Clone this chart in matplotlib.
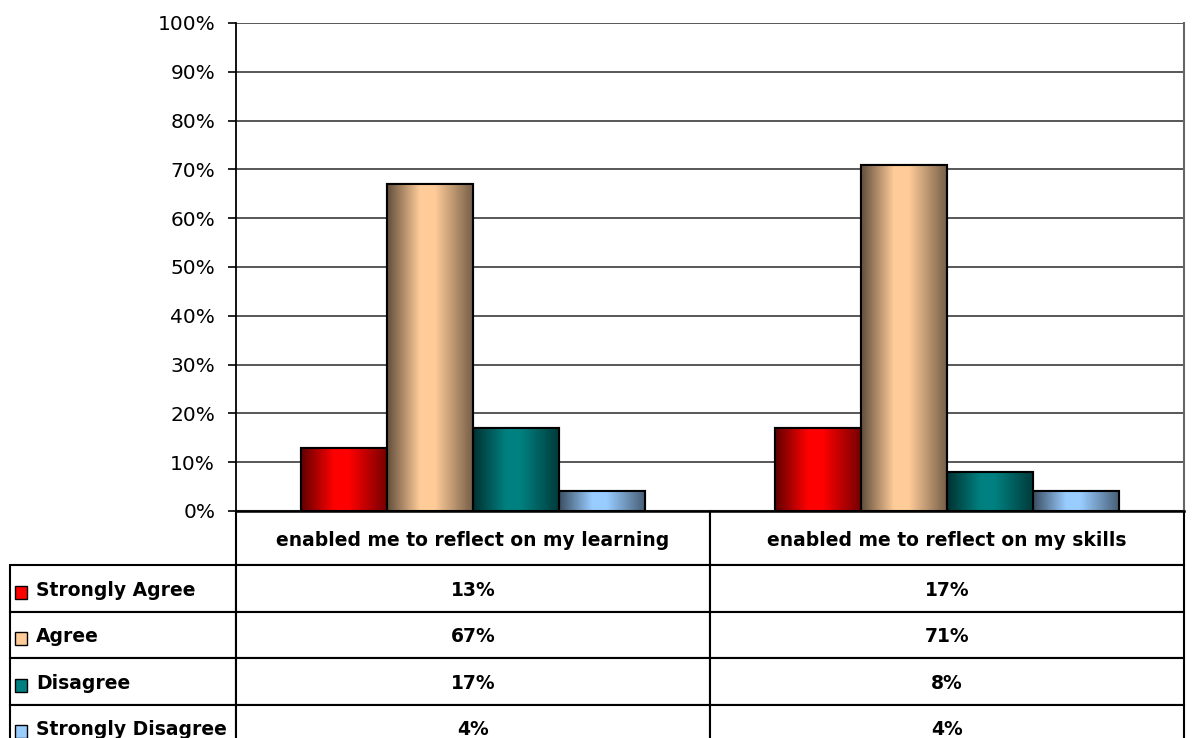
import numpy as np
import matplotlib
matplotlib.use("Agg")
import matplotlib.pyplot as plt
from matplotlib.table import Table
from matplotlib.patches import Rectangle
from matplotlib.ticker import MultipleLocator, PercentFormatter

# survey results (percent of respondents)
categories = ["enabled me to reflect on my learning", "enabled me to reflect on my skills"]
responses = ["Strongly Agree", "Agree", "Disagree", "Strongly Disagree"]
strongly_agree = [13, 17]
agree = [67, 71]
disagree = [17, 8]
strongly_disagree = [4, 4]
series = [strongly_agree, agree, disagree, strongly_disagree]
colors = ["#FF0000", "#FFCC99", "#008080", "#99CCFF"]

plt.rcParams["font.family"] = ["DejaVu Sans"]

fig = plt.figure(figsize=(11.92, 7.38), dpi=100)
ax = fig.add_axes([236 / 1192, 1 - 511 / 738, 948 / 1192, 488 / 738])

x = np.arange(len(categories))
width = 1 / 5.5  # four bars per group, gap of 1.5 bar widths

# horizontal shading: dark edges, bright centre
t = np.linspace(0, 1, 200)
shade = np.interp(t, [0, 0.38, 0.55, 1], [0.38, 1, 1, 0.45])

for i, (vals, col) in enumerate(zip(series, colors)):
    pos = x + (i - 1.5) * width
    bars = ax.bar(pos, vals, width, color=col, edgecolor="black", linewidth=1.5, zorder=2)
    rgb = np.array(matplotlib.colors.to_rgb(col))
    grad = (shade[:, None] * rgb[None, :])[None, :, :]
    for b in bars:
        im = ax.imshow(grad, extent=(b.get_x(), b.get_x() + b.get_width(), 0, b.get_height()),
                       aspect="auto", zorder=2.5, interpolation="bilinear")
        im.set_clip_path(b)
    ax.bar(pos, vals, width, fill=False, edgecolor="black", linewidth=1.5, zorder=3)

ax.set_xlim(-0.5, len(categories) - 0.5)
ax.set_ylim(0, 100)
ax.yaxis.set_major_locator(MultipleLocator(10))
ax.yaxis.set_major_formatter(PercentFormatter(decimals=0))
ax.tick_params(axis="y", direction="out", length=6, width=1.2, pad=9, labelsize=14.5)
ax.tick_params(axis="x", bottom=False, labelbottom=False)
ax.grid(axis="y", color="#4a4a4a", linewidth=1.3, zorder=1)
ax.set_axisbelow(True)
ax.spines["top"].set_visible(False)
ax.spines["right"].set_color("#666666")
ax.spines["right"].set_linewidth(1.5)
ax.spines["left"].set_linewidth(1.3)
ax.spines["bottom"].set_linewidth(1.8)

# data table under the chart; bbox covers the value columns, the label column hangs left
label_w, col_w = 226 / 948, 474 / 948
head_h, row_h = 54 / 488, 46.5 / 488
tbl = Table(ax, bbox=[0, -(head_h + 4 * row_h), 2 * col_w, head_h + 4 * row_h])
for j, cat in enumerate(categories):
    tbl.add_cell(0, j, col_w, head_h, text=cat, loc="center")
for r, (name, vals) in enumerate(zip(responses, series), start=1):
    c = tbl.add_cell(r, -1, label_w, row_h, text=name, loc="left")
    c.PAD = 26 / 226
    for j, v in enumerate(vals):
        tbl.add_cell(r, j, col_w, row_h, text=f"{v}%", loc="center")
tbl.auto_set_font_size(False)
for cell in tbl.get_celld().values():
    cell.set_linewidth(1.5)
    txt = cell.get_text()
    txt.set_fontsize(13.5)
    txt.set_fontweight("bold")
    txt.set_verticalalignment("center_baseline")
tbl.set_clip_on(False)
ax.add_table(tbl)

# legend keys in front of the row labels
for r, col in enumerate(colors):
    yc = -(head_h + (r + 0.5) * row_h) - 4 / 488
    ax.add_patch(Rectangle((-(236 - 15) / 948, yc - 6.5 / 488), 12 / 948, 13 / 488,
                           transform=ax.transAxes, facecolor=col, edgecolor="black",
                           linewidth=1, clip_on=False, zorder=5))

fig.savefig("out.png", dpi=100)
